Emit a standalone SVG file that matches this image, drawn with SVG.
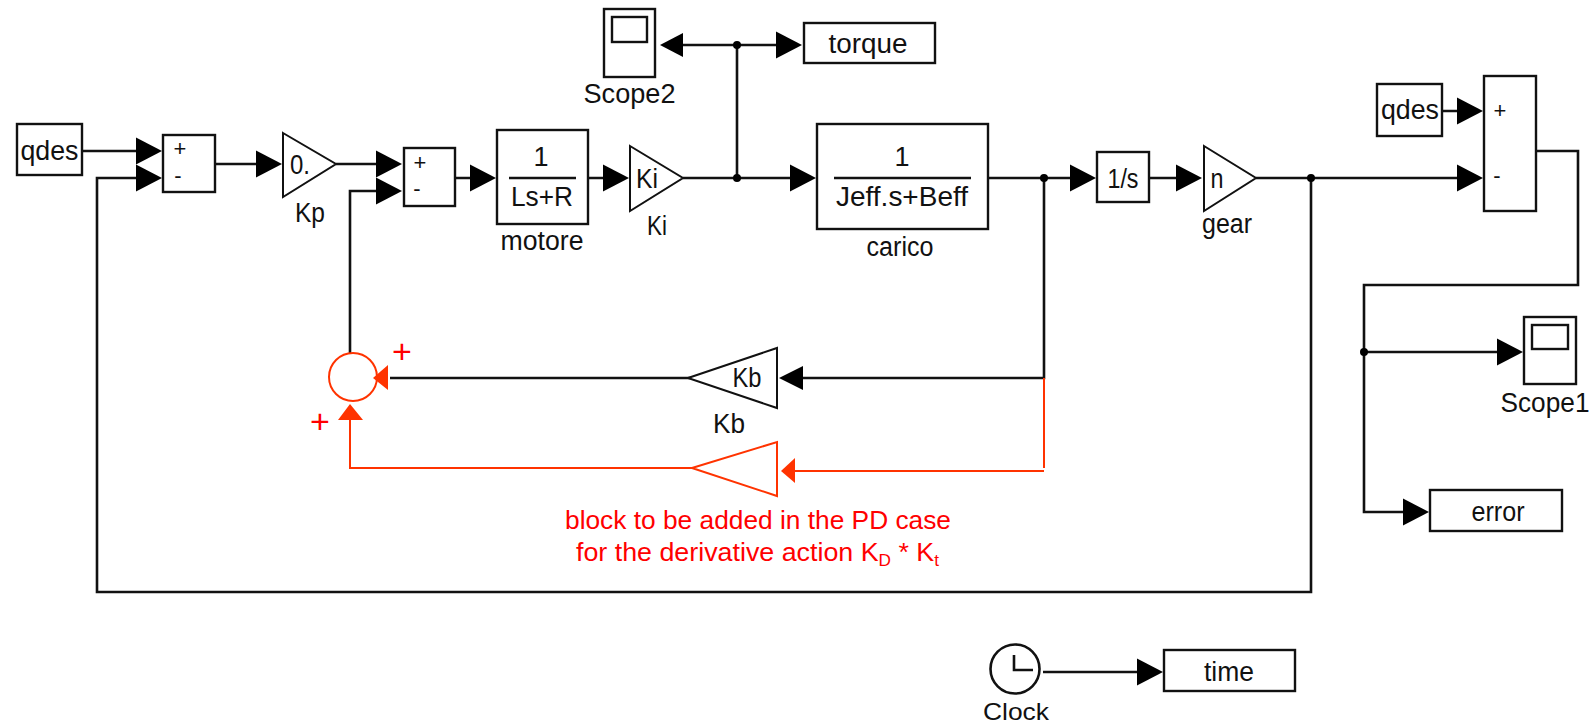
<svg xmlns="http://www.w3.org/2000/svg" width="1594" height="725" viewBox="0 0 1594 725">
<style>
text{font-family:"Liberation Sans",Arial,sans-serif;fill:#111;font-size:27px;text-anchor:middle}
.b{fill:#fff;stroke:#111;stroke-width:2.4}
.w{fill:none;stroke:#111;stroke-width:2.6}
.r{fill:none;stroke:#ff3300;stroke-width:2}
.t{fill:#fff;stroke:#111;stroke-width:2}
.a{fill:#000}
.ra{fill:#ff3300}
.d{fill:#000}
.s{font-size:22px}
.red{fill:#ff0000;font-size:26.5px}
.plus{fill:#ff0000;font-size:34px}
.c{font-size:24px}
</style>
<defs>
<polygon id="ar" class="a" points="0,-13.500 26,0 0,13.500"/>
</defs>
<g id="connectors">
<path class="w" d="M82 151H138M138 178H97V592H1311V178M215 164H258M336 164H378M378 191H350V353M455 178H472M588 178H605M683 178H792M737 178V45M680 45H778M988 178H1072M1149 178H1178M1256 178H1459M1442 111H1459M1536 151H1578V285H1364V512H1405M1364 352H1499M1044 178V378H803M773 378H390M1043 672H1139"/>
<path class="r" d="M1044 378V468M1044 471H795M692 468H350V420"/>
<g>
<use href="#ar" x="136" y="151"/><use href="#ar" x="136" y="178"/><use href="#ar" x="256" y="164"/><use href="#ar" x="376" y="164"/><use href="#ar" x="376" y="191"/><use href="#ar" x="470" y="178"/><use href="#ar" x="603" y="178"/><use href="#ar" x="790" y="178"/><use href="#ar" x="1070" y="178"/><use href="#ar" x="1176" y="178"/><use href="#ar" x="1457" y="111"/><use href="#ar" x="1457" y="178"/><use href="#ar" x="1497" y="352"/><use href="#ar" x="1403" y="512"/><use href="#ar" x="776" y="45"/><use href="#ar" x="1137" y="672"/>
<polygon class="a" points="660,45 683,33 683,57"/>
<polygon class="a" points="779,378 803,366 803,390"/>
<polygon class="ra" points="373,378 388,365 388,390"/>
<polygon class="ra" points="350,404 338,420 363,420"/>
<polygon class="ra" points="781,471 795,458 795,483"/>
</g>
<circle class="d" cx="737" cy="45" r="4"/><circle class="d" cx="737" cy="178" r="4"/><circle class="d" cx="1044" cy="178" r="4"/><circle class="d" cx="1311" cy="178" r="4"/><circle class="d" cx="1364" cy="352" r="4"/>
</g>
<g id="qdes1"><rect class="b" x="17" y="124" width="65" height="51"/><text x="49.500" y="160" textLength="58" lengthAdjust="spacingAndGlyphs">qdes</text></g>
<g id="sum1"><rect class="b" x="163" y="135" width="52" height="57"/><text class="s" x="180" y="156">+</text><text class="s" x="178" y="183">-</text></g>
<g id="kp"><polygon class="t" points="283,133 336,164 283,197"/><text x="300" y="174" textLength="20" lengthAdjust="spacingAndGlyphs">0.</text><text x="310" y="222" textLength="30" lengthAdjust="spacingAndGlyphs">Kp</text></g>
<g id="sum2"><rect class="b" x="404" y="148" width="51" height="58"/><text class="s" x="420" y="170">+</text><text class="s" x="417" y="196">-</text></g>
<g id="motore"><rect class="b" x="497" y="130" width="91" height="94"/><text x="541" y="166">1</text><path class="w" d="M509 178H576"/><text x="542" y="206" textLength="62" lengthAdjust="spacingAndGlyphs">Ls+R</text><text x="542" y="250" textLength="83" lengthAdjust="spacingAndGlyphs">motore</text></g>
<g id="ki"><polygon class="t" points="630,146 683,178 630,211"/><text x="647" y="188" textLength="22" lengthAdjust="spacingAndGlyphs">Ki</text><text x="657" y="235" textLength="20" lengthAdjust="spacingAndGlyphs">Ki</text></g>
<g id="scope2"><rect class="b" x="604" y="9" width="51" height="68"/><rect class="b" x="612" y="17" width="35" height="25"/><text x="629.500" y="103" textLength="92" lengthAdjust="spacingAndGlyphs">Scope2</text></g>
<g id="torque"><rect class="b" x="804" y="23" width="131" height="40"/><text x="868" y="53" textLength="79" lengthAdjust="spacingAndGlyphs">torque</text></g>
<g id="carico"><rect class="b" x="817" y="124" width="171" height="105"/><text x="902" y="166">1</text><path class="w" d="M834 178H971"/><text x="902" y="206" textLength="132" lengthAdjust="spacingAndGlyphs">Jeff.s+Beff</text><text x="900" y="256" textLength="67" lengthAdjust="spacingAndGlyphs">carico</text></g>
<g id="integrator"><rect class="b" x="1097" y="152" width="52" height="50"/><text x="1123" y="188" textLength="31" lengthAdjust="spacingAndGlyphs">1/s</text></g>
<g id="gear"><polygon class="t" points="1204,146 1256,178 1204,211"/><text x="1217" y="188" textLength="13" lengthAdjust="spacingAndGlyphs">n</text><text x="1227" y="233" textLength="50" lengthAdjust="spacingAndGlyphs">gear</text></g>
<g id="qdes2"><rect class="b" x="1377" y="84" width="65" height="52"/><text x="1410" y="119" textLength="58" lengthAdjust="spacingAndGlyphs">qdes</text></g>
<g id="sum3"><rect class="b" x="1484" y="76" width="52" height="135"/><text class="s" x="1500" y="118">+</text><text class="s" x="1497" y="183">-</text></g>
<g id="scope1"><rect class="b" x="1524" y="317" width="52" height="67"/><rect class="b" x="1532" y="325" width="36" height="24"/><text x="1545" y="412" textLength="89" lengthAdjust="spacingAndGlyphs">Scope1</text></g>
<g id="error"><rect class="b" x="1430" y="490" width="132" height="41"/><text x="1498" y="521" textLength="53" lengthAdjust="spacingAndGlyphs">error</text></g>
<g id="kb"><polygon class="t" points="688,378 777,348 777,408"/><text x="747" y="387" textLength="29" lengthAdjust="spacingAndGlyphs">Kb</text><text x="729" y="433" textLength="32" lengthAdjust="spacingAndGlyphs">Kb</text></g>
<g id="sum-red"><circle class="r" cx="353" cy="377" r="24"/><text class="plus" x="402" y="363">+</text><text class="plus" x="320" y="433">+</text></g>
<g id="kd"><polygon class="r" points="692,468 777,442 777,496"/><text class="red" x="758" y="529" textLength="386" lengthAdjust="spacingAndGlyphs">block to be added in the PD case</text><text class="red" x="757.500" y="561" textLength="363" lengthAdjust="spacingAndGlyphs">for the derivative action K<tspan font-size="17" dy="5">D</tspan><tspan dy="-5"> * K</tspan><tspan font-size="17" dy="5">t</tspan></text></g>
<g id="clock"><circle class="w" cx="1015" cy="669" r="24.500"/><path class="w" d="M1014 655V670H1033"/><text class="c" x="1016" y="720" textLength="66" lengthAdjust="spacingAndGlyphs">Clock</text></g>
<g id="time"><rect class="b" x="1164" y="650" width="131" height="41"/><text x="1229" y="681" textLength="50" lengthAdjust="spacingAndGlyphs">time</text></g>
</svg>
